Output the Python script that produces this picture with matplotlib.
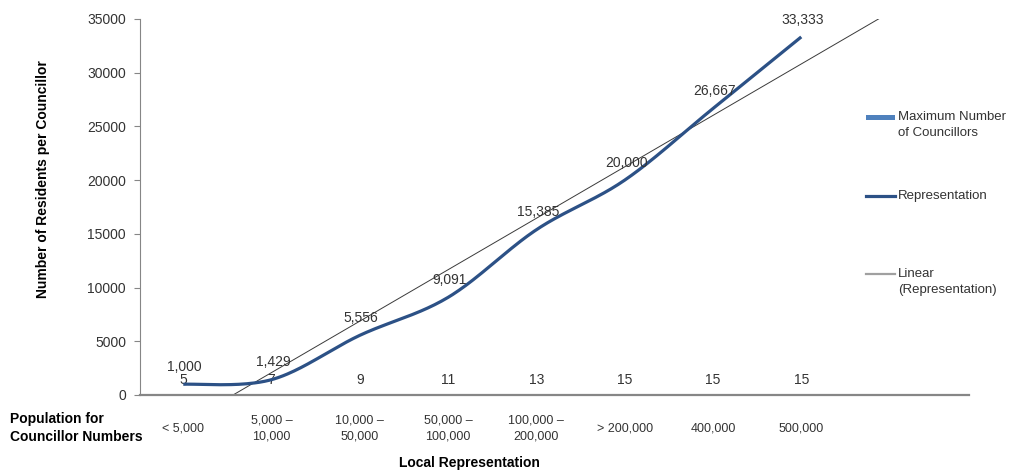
import numpy as np
import matplotlib
matplotlib.use("Agg")
import matplotlib.pyplot as plt
from matplotlib.lines import Line2D
from matplotlib.patches import Rectangle

plt.rcParams['font.family'] = ['Liberation Sans', 'DejaVu Sans']

# Population bands and their values
bands = ["< 5,000", "5,000 –\n10,000", "10,000 –\n50,000", "50,000 –\n100,000",
         "100,000 –\n200,000", "> 200,000", "400,000", "500,000"]
max_councillors = [5, 7, 9, 11, 13, 15, 15, 15]
residents_per_councillor = [1000, 1429, 5556, 9091, 15385, 20000, 26667, 33333]
y_ticks = [0, 5000, 10000, 15000, 20000, 25000, 30000, 35000]

BAR_BLUE = '#4F81BD'
LINE_BLUE = '#2C5186'
TEXT = '#333333'
AXIS_GREY = '#868686'

fig = plt.figure(figsize=(10.13, 4.70), dpi=100)
W, H = 1013, 470
ax = fig.add_axes([140 / W, 75 / H, (969 - 140) / W, (395 - 19) / H])

x = np.arange(len(bands))
y = np.array(residents_per_councillor, dtype=float)

# Columns (tiny relative to the axis scale) with their value labels
bars = ax.bar(x, max_councillors, width=0.55, color=BAR_BLUE, zorder=2)
ax.bar_label(bars, labels=[str(v) for v in max_councillors], padding=6,
             fontsize=10, color=TEXT)


def smooth_curve(xs, ys, n=40):
    """Catmull-Rom style Bezier smoothing through every point."""
    px, py = [], []
    m = len(xs)
    for i in range(m - 1):
        x0, y0 = xs[max(i - 1, 0)], ys[max(i - 1, 0)]
        x1, y1 = xs[i], ys[i]
        x2, y2 = xs[i + 1], ys[i + 1]
        x3, y3 = xs[min(i + 2, m - 1)], ys[min(i + 2, m - 1)]
        c1x, c1y = x1 + (x2 - x0) / 6, y1 + (y2 - y0) / 6
        c2x, c2y = x2 - (x3 - x1) / 6, y2 - (y3 - y1) / 6
        t = np.linspace(0, 1, n)
        b0, b1, b2, b3 = (1 - t) ** 3, 3 * t * (1 - t) ** 2, 3 * t ** 2 * (1 - t), t ** 3
        px.append(b0 * x1 + b1 * c1x + b2 * c2x + b3 * x2)
        py.append(b0 * y1 + b1 * c1y + b2 * c2y + b3 * y2)
    return np.concatenate(px), np.concatenate(py)


sx, sy = smooth_curve(x.astype(float), y)
ax.plot(sx, sy, color=LINE_BLUE, lw=2.3, solid_capstyle='butt', zorder=4)

# Linear trend of the representation series
slope, intercept = np.polyfit(x, y, 1)
tx = np.array([-0.5, 9.0])
ax.plot(tx, slope * tx + intercept, color='#3A3A3A', lw=0.7, zorder=3)

for xi, yi in zip(x, y):
    ax.annotate(f"{int(yi):,}", (xi, yi), xytext=(1, 12.5), textcoords='offset points',
                ha='center', va='center', fontsize=10, color=TEXT, zorder=5)

ax.set_xlim(-0.49, 8.9)
ax.set_ylim(0, 35000)
ax.set_yticks(y_ticks)
ax.set_yticklabels([str(v) for v in y_ticks])
ax.set_xticks(x)
ax.set_xticklabels(bands, fontsize=9, color=TEXT, linespacing=1.45)
for lab in ax.get_xticklabels():
    lab.set_va('center')
ax.tick_params(axis='x', length=0, pad=24)
ax.tick_params(axis='y', length=4, width=0.8, color=AXIS_GREY, direction='out',
               labelsize=10, labelcolor=TEXT, pad=6)

for side in ('top', 'right'):
    ax.spines[side].set_visible(False)
ax.spines['left'].set_color(AXIS_GREY)
ax.spines['left'].set_linewidth(0.8)
ax.spines['bottom'].set_color(AXIS_GREY)
ax.spines['bottom'].set_linewidth(1.6)
ax.spines['bottom'].set_zorder(6)

fig.text(43 / W, 1 - 179 / H, "Number of Residents per Councillor", fontsize=10,
         fontweight='bold', color='black', rotation=90, ha='center', va='center')

fig.text(10 / W, 1 - 428 / H, "Population for\nCouncillor Numbers", fontsize=10,
         fontweight='bold', color='black', ha='left', va='center', linespacing=1.3)
fig.text(469 / W, 1 - 463 / H, "Local Representation", fontsize=10,
         fontweight='bold', color='black', ha='center', va='center')

# Legend on the right
fig.add_artist(Rectangle((866 / W, 1 - 120 / H), 29 / W, 5 / H, transform=fig.transFigure,
                         color=BAR_BLUE, lw=0))
fig.text(898 / W, 1 - 125 / H, "Maximum Number\nof Councillors", fontsize=9.5,
         color=TEXT, ha='left', va='center', linespacing=1.45)
fig.add_artist(Line2D([866 / W, 895 / W], [1 - 196 / H] * 2, transform=fig.transFigure,
                      color=LINE_BLUE, lw=2.3))
fig.text(898 / W, 1 - 196 / H, "Representation", fontsize=9.5, color=TEXT,
         ha='left', va='center')
fig.add_artist(Line2D([866 / W, 895 / W], [1 - 274 / H] * 2, transform=fig.transFigure,
                      color='#A0A0A0', lw=1.6))
fig.text(898 / W, 1 - 282 / H, "Linear\n(Representation)", fontsize=9.5, color=TEXT,
         ha='left', va='center', linespacing=1.45)

fig.savefig("out.png", dpi=100)
